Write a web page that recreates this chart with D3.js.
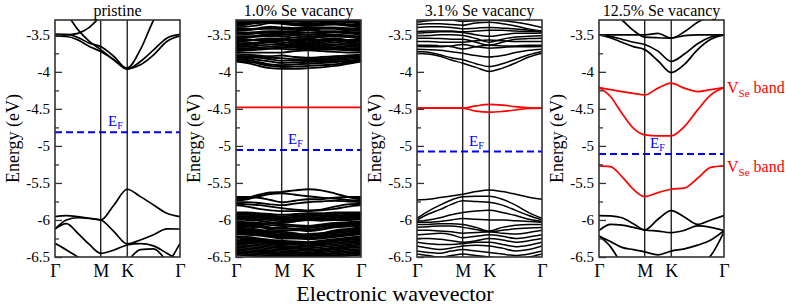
<!DOCTYPE html>
<html><head><meta charset="utf-8">
<script src="https://cdn.jsdelivr.net/npm/d3@7"></script>
<style>
html,body{margin:0;padding:0;background:#fff;}
text{font-family:"Liberation Serif","Times New Roman",serif;}
</style></head>
<body><svg id="c" width="787" height="305"></svg>
<script>
// ---------- data ----------
const kGrid = [0, 0.144, 0.289, 0.433, 0.577, 0.744, 0.911, 1.077, 1.244, 1.411, 1.577];
const kSym = [0, 0.577, 0.911, 1.577];
const kLabels = ["Γ", "M", "K", "Γ"];
const yMajor = [-3.5, -4, -4.5, -5, -5.5, -6, -6.5];
const yMinor = [-3.75, -4.25, -4.75, -5.25, -5.75, -6.25];
const panelTitles = ["pristine", "1.0% Se vacancy", "3.1% Se vacancy", "12.5% Se vacancy"];
const fermiLevels = [-4.815, -5.054, -5.077, -5.11];

const pristineBands = [
  [-3.491,-3.495,-3.536,-3.613,-3.658,-3.793,-3.959,-3.905,-3.77,-3.59,-3.514],
  [-3.514,-3.523,-3.568,-3.658,-3.725,-3.838,-3.964,-3.86,-3.703,-3.545,-3.495],
  [-3.03,-3.21,-3.43,-3.59,-3.70,-3.84,-3.95,-3.70,-3.30,-3.0,-2.8],
  [-3.5,-3.5,-3.48,-3.40,-3.25,-3.1,-3.0,-3.0,-3.0,-3.05,-3.1],
  [-5.955,-5.941,-5.955,-5.977,-6.0,-5.797,-5.585,-5.685,-5.797,-5.91,-5.955],
  [-6.122,-6.0,-5.97,-5.98,-6.0,-6.158,-6.324,-6.27,-6.2,-6.12,-6.122],
  [-6.122,-6.05,-6.18,-6.33,-6.45,-6.405,-6.338,-6.32,-6.35,-6.45,-6.55],
  [-6.7,-6.7,-6.7,-6.7,-6.7,-6.65,-6.55,-6.4,-6.39,-6.55,-6.7],
  [-6.315,-6.405,-6.5,-6.6,-6.7,-6.7,-6.7,-6.7,-6.7,-6.6,-6.315]
];

const vac1Bands = [
  [-3.86,-3.88,-3.92,-3.95,-3.96,-3.96,-3.95,-3.94,-3.92,-3.89,-3.86],
  [-3.85,-3.86,-3.89,-3.92,-3.935,-3.93,-3.92,-3.91,-3.9,-3.87,-3.85],
  [-3.83,-3.84,-3.87,-3.9,-3.91,-3.9,-3.89,-3.88,-3.87,-3.85,-3.83],
  [-3.815,-3.82,-3.84,-3.86,-3.88,-3.87,-3.865,-3.86,-3.85,-3.83,-3.815],
  [-3.8,-3.8,-3.81,-3.83,-3.85,-3.84,-3.84,-3.84,-3.83,-3.81,-3.8],
  [-3.785,-3.79,-3.795,-3.81,-3.815,-3.83,-3.83,-3.82,-3.81,-3.795,-3.785],
  [-3.77,-3.77,-3.78,-3.79,-3.78,-3.8,-3.81,-3.8,-3.79,-3.78,-3.77],
  [-3.74,-3.74,-3.74,-3.74,-3.74,-3.72,-3.71,-3.72,-3.73,-3.74,-3.74],
  [-3.72,-3.71,-3.7,-3.69,-3.69,-3.7,-3.7,-3.7,-3.7,-3.71,-3.72],
  [-3.705,-3.7,-3.69,-3.68,-3.67,-3.675,-3.69,-3.685,-3.685,-3.695,-3.705],
  [-3.68,-3.68,-3.67,-3.66,-3.65,-3.66,-3.68,-3.67,-3.67,-3.68,-3.68],
  [-3.665,-3.66,-3.645,-3.63,-3.635,-3.65,-3.67,-3.655,-3.65,-3.66,-3.665],
  [-3.65,-3.64,-3.62,-3.6,-3.62,-3.64,-3.66,-3.64,-3.63,-3.64,-3.65],
  [-3.635,-3.625,-3.61,-3.59,-3.595,-3.62,-3.645,-3.62,-3.605,-3.62,-3.635],
  [-3.62,-3.61,-3.6,-3.58,-3.57,-3.6,-3.63,-3.6,-3.58,-3.6,-3.62],
  [-3.6,-3.58,-3.56,-3.55,-3.55,-3.57,-3.6,-3.56,-3.55,-3.57,-3.6],
  [-3.585,-3.575,-3.565,-3.56,-3.56,-3.585,-3.615,-3.58,-3.565,-3.585,-3.585],
  [-3.57,-3.57,-3.57,-3.57,-3.57,-3.57,-3.57,-3.57,-3.57,-3.57,-3.57],
  [-3.55,-3.54,-3.52,-3.51,-3.52,-3.54,-3.55,-3.53,-3.52,-3.53,-3.55],
  [-3.535,-3.53,-3.51,-3.49,-3.49,-3.51,-3.53,-3.51,-3.5,-3.51,-3.535],
  [-3.52,-3.52,-3.52,-3.52,-3.5,-3.5,-3.5,-3.5,-3.52,-3.52,-3.52],
  [-3.5,-3.49,-3.48,-3.47,-3.47,-3.48,-3.5,-3.48,-3.47,-3.48,-3.5],
  [-3.485,-3.48,-3.47,-3.46,-3.46,-3.465,-3.47,-3.465,-3.46,-3.47,-3.485],
  [-3.47,-3.47,-3.46,-3.45,-3.45,-3.45,-3.44,-3.45,-3.45,-3.46,-3.47],
  [-3.45,-3.44,-3.42,-3.4,-3.42,-3.43,-3.43,-3.42,-3.42,-3.44,-3.45],
  [-3.435,-3.43,-3.41,-3.39,-3.4,-3.41,-3.42,-3.41,-3.41,-3.425,-3.435],
  [-3.42,-3.42,-3.42,-3.42,-3.42,-3.41,-3.4,-3.4,-3.4,-3.41,-3.42],
  [-3.4,-3.39,-3.37,-3.34,-3.35,-3.37,-3.38,-3.37,-3.36,-3.38,-3.4],
  [-3.38,-3.36,-3.33,-3.32,-3.33,-3.35,-3.35,-3.34,-3.34,-3.36,-3.38],
  [-3.365,-3.35,-3.34,-3.33,-3.34,-3.355,-3.365,-3.355,-3.35,-3.36,-3.365],
  [-3.35,-3.34,-3.32,-3.3,-3.3,-3.32,-3.33,-3.32,-3.32,-3.33,-3.35],
  [-3.33,-3.33,-3.33,-3.33,-3.33,-3.32,-3.31,-3.31,-3.31,-3.32,-3.33],
  [-3.31,-3.31,-3.31,-3.31,-3.31,-3.3,-3.3,-3.3,-3.3,-3.3,-3.31],
  [-5.72,-5.7,-5.66,-5.63,-5.62,-5.6,-5.585,-5.6,-5.64,-5.69,-5.72],
  [-5.74,-5.72,-5.68,-5.65,-5.64,-5.66,-5.68,-5.7,-5.71,-5.73,-5.74],
  [-5.69,-5.69,-5.7,-5.73,-5.76,-5.74,-5.72,-5.72,-5.7,-5.69,-5.69],
  [-5.76,-5.76,-5.77,-5.79,-5.8,-5.78,-5.76,-5.75,-5.74,-5.75,-5.76],
  [-5.78,-5.79,-5.8,-5.82,-5.84,-5.86,-5.87,-5.86,-5.82,-5.79,-5.78],
  [-5.8,-5.82,-5.85,-5.87,-5.88,-5.88,-5.88,-5.87,-5.85,-5.82,-5.8],
  [-5.9,-5.9,-5.91,-5.92,-5.93,-5.92,-5.91,-5.91,-5.9,-5.9,-5.9],
  [-5.915,-5.92,-5.925,-5.94,-5.95,-5.94,-5.93,-5.925,-5.92,-5.915,-5.915],
  [-5.93,-5.93,-5.94,-5.95,-5.97,-5.96,-5.95,-5.94,-5.94,-5.93,-5.93],
  [-5.945,-5.95,-5.955,-5.965,-5.985,-5.98,-5.97,-5.96,-5.955,-5.945,-5.945],
  [-5.96,-5.96,-5.97,-5.98,-6.0,-6.0,-5.99,-5.98,-5.97,-5.96,-5.96],
  [-5.975,-5.98,-5.99,-6.0,-6.02,-6.01,-5.995,-5.995,-5.985,-5.98,-5.975],
  [-5.99,-6.0,-6.01,-6.03,-6.04,-6.02,-6.0,-6.01,-6.0,-6.0,-5.99],
  [-6.02,-6.03,-6.04,-6.05,-6.06,-6.07,-6.08,-6.06,-6.04,-6.03,-6.02],
  [-6.035,-6.045,-6.055,-6.07,-6.08,-6.09,-6.095,-6.075,-6.055,-6.045,-6.035],
  [-6.05,-6.06,-6.07,-6.1,-6.12,-6.12,-6.11,-6.09,-6.07,-6.06,-6.05],
  [-6.065,-6.075,-6.085,-6.13,-6.14,-6.14,-6.13,-6.11,-6.085,-6.075,-6.065],
  [-6.08,-6.09,-6.1,-6.11,-6.1,-6.13,-6.15,-6.13,-6.1,-6.09,-6.08],
  [-6.1,-6.11,-6.13,-6.15,-6.16,-6.18,-6.2,-6.18,-6.14,-6.12,-6.1],
  [-6.115,-6.125,-6.14,-6.16,-6.18,-6.19,-6.21,-6.195,-6.16,-6.135,-6.115],
  [-6.13,-6.14,-6.15,-6.17,-6.2,-6.2,-6.19,-6.18,-6.16,-6.14,-6.13],
  [-6.145,-6.155,-6.165,-6.185,-6.21,-6.215,-6.22,-6.2,-6.18,-6.16,-6.145],
  [-6.16,-6.17,-6.18,-6.2,-6.22,-6.23,-6.24,-6.22,-6.2,-6.18,-6.16],
  [-6.175,-6.185,-6.195,-6.215,-6.235,-6.24,-6.25,-6.235,-6.215,-6.195,-6.175],
  [-6.19,-6.2,-6.21,-6.23,-6.25,-6.25,-6.26,-6.25,-6.23,-6.21,-6.19],
  [-6.22,-6.23,-6.25,-6.27,-6.28,-6.29,-6.3,-6.28,-6.26,-6.24,-6.22],
  [-6.24,-6.25,-6.265,-6.285,-6.3,-6.3,-6.31,-6.295,-6.275,-6.255,-6.24],
  [-6.26,-6.27,-6.28,-6.3,-6.32,-6.31,-6.32,-6.31,-6.29,-6.27,-6.26],
  [-6.28,-6.285,-6.295,-6.315,-6.335,-6.335,-6.34,-6.325,-6.31,-6.29,-6.28],
  [-6.3,-6.3,-6.31,-6.33,-6.35,-6.36,-6.36,-6.34,-6.33,-6.31,-6.3],
  [-6.315,-6.32,-6.33,-6.35,-6.365,-6.375,-6.38,-6.365,-6.35,-6.33,-6.315],
  [-6.33,-6.34,-6.35,-6.37,-6.38,-6.39,-6.4,-6.39,-6.37,-6.35,-6.33],
  [-6.35,-6.36,-6.37,-6.39,-6.4,-6.41,-6.42,-6.405,-6.385,-6.365,-6.35],
  [-6.37,-6.38,-6.39,-6.41,-6.42,-6.43,-6.44,-6.42,-6.4,-6.38,-6.37],
  [-6.39,-6.4,-6.41,-6.425,-6.44,-6.445,-6.455,-6.44,-6.42,-6.4,-6.39],
  [-6.41,-6.42,-6.43,-6.44,-6.46,-6.46,-6.47,-6.46,-6.44,-6.42,-6.41],
  [-6.43,-6.44,-6.45,-6.46,-6.475,-6.48,-6.485,-6.475,-6.46,-6.44,-6.43],
  [-6.45,-6.46,-6.47,-6.48,-6.49,-6.5,-6.5,-6.49,-6.48,-6.46,-6.45],
  [-6.47,-6.48,-6.49,-6.5,-6.51,-6.52,-6.52,-6.51,-6.5,-6.48,-6.47]
];
const vac1Defect = [
  [-4.48,-4.48,-4.48,-4.48,-4.48,-4.48,-4.48,-4.48,-4.48,-4.48,-4.48]
];

const vac3Bands = [
  [-3.748,-3.76,-3.79,-3.84,-3.883,-3.94,-3.995,-3.95,-3.88,-3.8,-3.748],
  [-3.725,-3.735,-3.77,-3.81,-3.838,-3.89,-3.928,-3.89,-3.83,-3.77,-3.725],
  [-3.694,-3.7,-3.71,-3.73,-3.75,-3.78,-3.8,-3.78,-3.74,-3.71,-3.694],
  [-3.658,-3.66,-3.66,-3.65,-3.63,-3.66,-3.68,-3.67,-3.66,-3.66,-3.658],
  [-3.64,-3.64,-3.65,-3.66,-3.69,-3.66,-3.64,-3.65,-3.65,-3.64,-3.64],
  [-3.59,-3.59,-3.6,-3.6,-3.6,-3.58,-3.57,-3.58,-3.59,-3.59,-3.59],
  [-3.545,-3.545,-3.55,-3.56,-3.56,-3.6,-3.64,-3.6,-3.56,-3.55,-3.545],
  [-3.514,-3.51,-3.5,-3.5,-3.51,-3.55,-3.6,-3.56,-3.53,-3.52,-3.514],
  [-3.477,-3.47,-3.46,-3.46,-3.47,-3.5,-3.52,-3.5,-3.48,-3.48,-3.477],
  [-3.455,-3.45,-3.45,-3.45,-3.46,-3.45,-3.44,-3.44,-3.45,-3.455,-3.455],
  [-3.36,-3.35,-3.35,-3.36,-3.37,-3.34,-3.33,-3.35,-3.38,-3.42,-3.45],
  [-3.33,-3.31,-3.3,-3.3,-3.32,-3.31,-3.3,-3.31,-3.33,-3.36,-3.4],
  [-3.4,-3.39,-3.39,-3.4,-3.42,-3.41,-3.4,-3.41,-3.42,-3.44,-3.46],
  [-5.73,-5.721,-5.698,-5.676,-5.653,-5.617,-5.595,-5.617,-5.653,-5.694,-5.721],
  [-5.977,-5.88,-5.8,-5.73,-5.685,-5.68,-5.68,-5.72,-5.8,-5.9,-5.977],
  [-6.0,-5.92,-5.86,-5.79,-5.74,-5.75,-5.76,-5.8,-5.87,-5.94,-6.0],
  [-6.02,-6.0,-5.97,-5.93,-5.9,-5.88,-5.87,-5.9,-5.94,-5.99,-6.02],
  [-6.03,-6.03,-6.02,-6.0,-5.98,-5.99,-6.0,-6.0,-6.01,-6.02,-6.03],
  [-6.06,-6.06,-6.05,-6.05,-6.06,-6.1,-6.15,-6.1,-6.07,-6.06,-6.06],
  [-6.1,-6.09,-6.08,-6.08,-6.1,-6.13,-6.16,-6.14,-6.12,-6.11,-6.1],
  [-6.14,-6.14,-6.15,-6.16,-6.18,-6.17,-6.16,-6.18,-6.19,-6.17,-6.14],
  [-6.2,-6.19,-6.18,-6.2,-6.24,-6.22,-6.2,-6.22,-6.25,-6.23,-6.2],
  [-6.25,-6.25,-6.26,-6.28,-6.3,-6.28,-6.25,-6.27,-6.3,-6.28,-6.25],
  [-6.3,-6.32,-6.33,-6.33,-6.32,-6.3,-6.3,-6.33,-6.36,-6.34,-6.3],
  [-6.35,-6.38,-6.4,-6.38,-6.35,-6.34,-6.35,-6.38,-6.42,-6.4,-6.35],
  [-6.42,-6.44,-6.45,-6.42,-6.4,-6.42,-6.44,-6.46,-6.48,-6.46,-6.42],
  [-6.46,-6.48,-6.5,-6.48,-6.46,-6.48,-6.5,-6.52,-6.52,-6.5,-6.46]
];
const vac3Defect = [
  [-4.49,-4.49,-4.49,-4.49,-4.49,-4.46,-4.44,-4.45,-4.47,-4.485,-4.49],
  [-4.49,-4.49,-4.49,-4.49,-4.49,-4.53,-4.545,-4.535,-4.515,-4.495,-4.49]
];

const vac12Bands = [
  [-3.5,-3.5,-3.5,-3.5,-3.5,-3.48,-3.545,-3.51,-3.5,-3.5,-3.5],
  [-3.1,-3.2,-3.3,-3.44,-3.53,-3.54,-3.545,-3.46,-3.33,-3.25,-3.2],
  [-3.5,-3.52,-3.56,-3.6,-3.63,-3.72,-3.86,-3.76,-3.62,-3.53,-3.5],
  [-3.5,-3.54,-3.6,-3.66,-3.7,-3.85,-4.01,-3.9,-3.7,-3.56,-3.5],
  [-5.941,-5.945,-5.97,-6.05,-6.135,-5.99,-5.874,-5.96,-6.06,-6.0,-5.941],
  [-6.144,-6.06,-6.07,-6.1,-6.135,-6.15,-6.171,-6.14,-6.08,-6.1,-6.144],
  [-6.216,-6.29,-6.37,-6.4,-6.43,-6.47,-6.42,-6.39,-6.34,-6.27,-6.144],
  [-6.216,-6.36,-6.6,-6.8,-6.9,-6.9,-6.9,-6.8,-6.6,-6.48,-6.16]
];
const vac12Defect = [
  [-4.212,-4.24,-4.266,-4.29,-4.311,-4.22,-4.153,-4.22,-4.266,-4.24,-4.212],
  [-4.212,-4.333,-4.559,-4.761,-4.851,-4.865,-4.865,-4.739,-4.514,-4.311,-4.212],
  [-5.27,-5.28,-5.414,-5.585,-5.685,-5.63,-5.585,-5.57,-5.437,-5.29,-5.27]
];

const panelBands = [pristineBands, vac1Bands, vac3Bands, vac12Bands];
const panelDefects = [[], vac1Defect, vac3Defect, vac12Defect];
const defectLabels = [-4.2, -5.27];

// ---------- layout ----------
const svg = d3.select("#c");
const lefts = [55, 236, 417, 599];
const pw = 125, pTop = 20, pBottom = 257;
const FONT = '"Liberation Serif","Times New Roman",serif';
const bandWidth = [1.7, 1.9, 1.5, 1.7];
const efLabelX = [108, 288, 469, 650];

panelTitles.forEach((title, p) => {
  const x = d3.scaleLinear().domain([0, 1.577]).range([lefts[p], lefts[p] + pw]);
  const y = d3.scaleLinear().domain([-6.5, -3.3]).range([pBottom, pTop]);
  const g = svg.append("g");
  const clipId = "clip" + p;
  svg.append("clipPath").attr("id", clipId).append("rect")
    .attr("x", lefts[p]).attr("y", pTop).attr("width", pw).attr("height", pBottom - pTop);

  const line = d3.line().x((d, i) => x(kGrid[i])).y(d => y(d)).curve(d3.curveMonotoneX);
  const plot = g.append("g").attr("clip-path", `url(#${clipId})`);

  plot.selectAll("line.sym").data(kSym.slice(1, 3)).join("line")
    .attr("x1", d => x(d)).attr("x2", d => x(d)).attr("y1", pTop).attr("y2", pBottom)
    .attr("stroke", "#000").attr("stroke-width", 1.2);

  plot.selectAll("path.band").data(panelBands[p]).join("path")
    .attr("d", line).attr("fill", "none").attr("stroke", "#000").attr("stroke-width", bandWidth[p]);
  plot.selectAll("path.def").data(panelDefects[p]).join("path")
    .attr("d", line).attr("fill", "none").attr("stroke", "#ff0000").attr("stroke-width", 1.7);

  const ef = fermiLevels[p];
  plot.append("line").attr("x1", lefts[p]).attr("x2", lefts[p] + pw)
    .attr("y1", y(ef)).attr("y2", y(ef))
    .attr("stroke", "#0000ff").attr("stroke-width", 2).attr("stroke-dasharray", "7,4");
  const eft = g.append("text").attr("x", efLabelX[p]).attr("y", y(ef) - 6)
    .attr("fill", "#0000ff").style("font-size", "15px").style("font-family", FONT);
  eft.append("tspan").text("E");
  eft.append("tspan").attr("dy", 3).style("font-size", "10px").text("F");

  const yAx = d3.axisLeft(y).tickValues(yMajor).tickSizeInner(-7).tickSizeOuter(0)
    .tickPadding(5).tickFormat(d => String(d));
  const ya = g.append("g").attr("transform", `translate(${lefts[p]},0)`).call(yAx);
  ya.attr("font-family", null);
  ya.select(".domain").remove();
  ya.selectAll("line").attr("stroke", "#333").attr("stroke-width", 1.3);
  ya.selectAll("text").style("font-size", "15px").style("font-family", FONT).attr("fill", "#000");
  const ym = g.append("g").attr("transform", `translate(${lefts[p]},0)`)
    .call(d3.axisLeft(y).tickValues(yMinor).tickSizeInner(-4).tickSizeOuter(0).tickFormat(""));
  ym.select(".domain").remove();
  ym.selectAll("line").attr("stroke", "#333").attr("stroke-width", 1.3);

  const xa = g.append("g").attr("transform", `translate(0,${pBottom})`)
    .call(d3.axisBottom(x).tickValues(kSym).tickSize(0).tickPadding(7).tickFormat((d, i) => kLabels[i]));
  xa.attr("font-family", null);
  xa.select(".domain").remove();
  xa.selectAll("text").style("font-size", "18px").style("font-family", FONT).attr("fill", "#000");

  g.append("rect").attr("x", lefts[p]).attr("y", pTop).attr("width", pw).attr("height", pBottom - pTop)
    .attr("fill", "none").attr("stroke", "#333").attr("stroke-width", 1.6);

  g.append("text").attr("x", lefts[p] + pw / 2).attr("y", 16).attr("text-anchor", "middle")
    .style("font-size", "16px").style("font-family", FONT).text(title);

  g.append("text").attr("transform", `translate(${lefts[p] - 36},${(pTop + pBottom) / 2}) rotate(-90)`)
    .attr("text-anchor", "middle").style("font-size", "18px").style("font-family", FONT)
    .text("Energy (eV)");

  if (p === 3) {
    defectLabels.forEach(e => {
      const t = g.append("text").attr("x", lefts[p] + pw + 3).attr("y", y(e) + 6)
        .attr("fill", "#ff0000").style("font-size", "16px").style("font-family", FONT);
      t.append("tspan").text("V");
      t.append("tspan").attr("dy", 4).style("font-size", "11px").text("Se");
      t.append("tspan").attr("dy", -4).text(" band");
    });
  }
});

svg.append("text").attr("x", 395).attr("y", 301).attr("text-anchor", "middle")
  .style("font-size", "22px").style("font-family", FONT).text("Electronic wavevector");
</script></body></html>
